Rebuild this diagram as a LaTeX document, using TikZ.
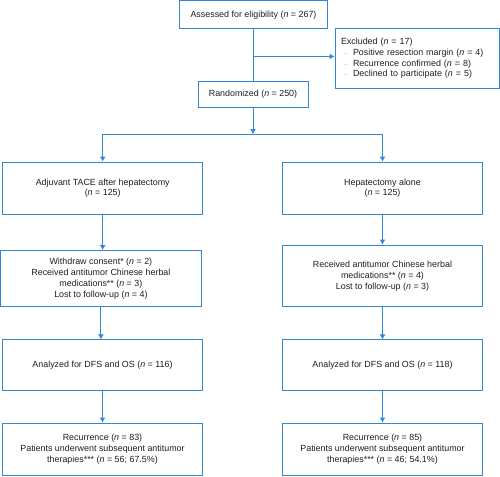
\documentclass[tikz,border=0pt]{standalone}
\usepackage{fontspec}
\setmainfont{Liberation Sans}
\usepackage{tikz}
\usetikzlibrary{calc,arrows.meta}
\definecolor{boxblue}{RGB}{52,134,214}
\definecolor{textgray}{RGB}{30,30,30}
\definecolor{dashgray}{RGB}{150,150,150}
\newcommand{\exitem}{\hspace*{3.5pt}\makebox[8.5pt][l]{\color{dashgray}\tiny --}}
\tikzset{
  box/.style={draw=boxblue,line width=1pt,text=textgray,align=center,inner sep=0pt,
    font=\fontsize{8.9}{10.8}\selectfont},
  link/.style={draw=boxblue,line width=1pt},
  arr/.style={link,-{Latex[length=5pt,width=6pt]}}
}
\begin{document}
\begin{tikzpicture}[x=1pt,y=-1pt]
                      \useasboundingbox (0,0) rectangle (500,476);
                      \node[box,minimum width=148,minimum height=28](assess)at(253.5,14.8){Assessed for eligibility (\textit{n} = 267)};
                      \node[box,minimum width=164,minimum height=59.6,text width=152,align=left](excl)at(417,58.5){Excluded (\textit{n} = 17)\\
                        \exitem Positive resection margin (\textit{n} = 4)\\
                        \exitem Recurrence confirmed (\textit{n} = 8)\\
                        \exitem Declined to participate (\textit{n} = 5)};
                      \node[box,minimum width=110,minimum height=26](rand)at(253,94.4){Randomized (\textit{n} = 250)};
                      \node[box,minimum width=200,minimum height=52.3](adj)at(102.7,188.2){Adjuvant TACE after hepatectomy\\(\textit{n} = 125)};
                      \node[box,minimum width=199.6,minimum height=52.3](hep)at(382.5,188.2){Hepatectomy alone\\(\textit{n} = 125)};
                      \node[box,minimum width=200.3,minimum height=56.2](wd)at(100.9,278.6){Withdraw consent* (\textit{n} = 2)\\Received antitumor Chinese herbal\\medications** (\textit{n} = 3)\\Lost to follow-up (\textit{n} = 4)};
                      \node[box,minimum width=199.6,minimum height=61.7](hwd)at(382.5,275.9){Received antitumor Chinese herbal\\medications** (\textit{n} = 4)\\Lost to follow-up (\textit{n} = 3)};
                      \node[box,minimum width=199.6,minimum height=50.7](an1)at(102.5,365.3){Analyzed for DFS and OS (\textit{n} = 116)};
                      \node[box,minimum width=199.6,minimum height=50.7](an2)at(382.5,365.3){Analyzed for DFS and OS (\textit{n} = 118)};
                      \node[box,minimum width=199.6,minimum height=52](rec1)at(102.5,449){Recurrence (\textit{n} = 83)\\Patients underwent subsequent antitumor\\therapies*** (\textit{n} = 56; 67.5\%)};
                      \node[box,minimum width=199.6,minimum height=52](rec2)at(382.5,449){Recurrence (\textit{n} = 85)\\Patients underwent subsequent antitumor\\therapies*** (\textit{n} = 46; 54.1\%)};
                      \coordinate(jx)at(253,56.5);
                      \coordinate(split)at(253,134);
                      \draw[link](assess.south)--(assess.south|-rand.north);
                      \draw[arr](jx)--(excl.west|-jx);
                      \draw[arr](rand.south)--(split);
                      \draw[link](adj.north|-split)--(hep.north|-split);
                      \draw[arr](adj.north|-split)--(adj.north);
                      \draw[arr](hep.north|-split)--(hep.north);
                      \foreach \a/\b in {adj/wd,wd/an1,an1/rec1,hep/hwd,hwd/an2,an2/rec2}
                        \draw[arr](\a.south)--(\a.south|-\b.north);
                  \end{tikzpicture}
\end{document}
